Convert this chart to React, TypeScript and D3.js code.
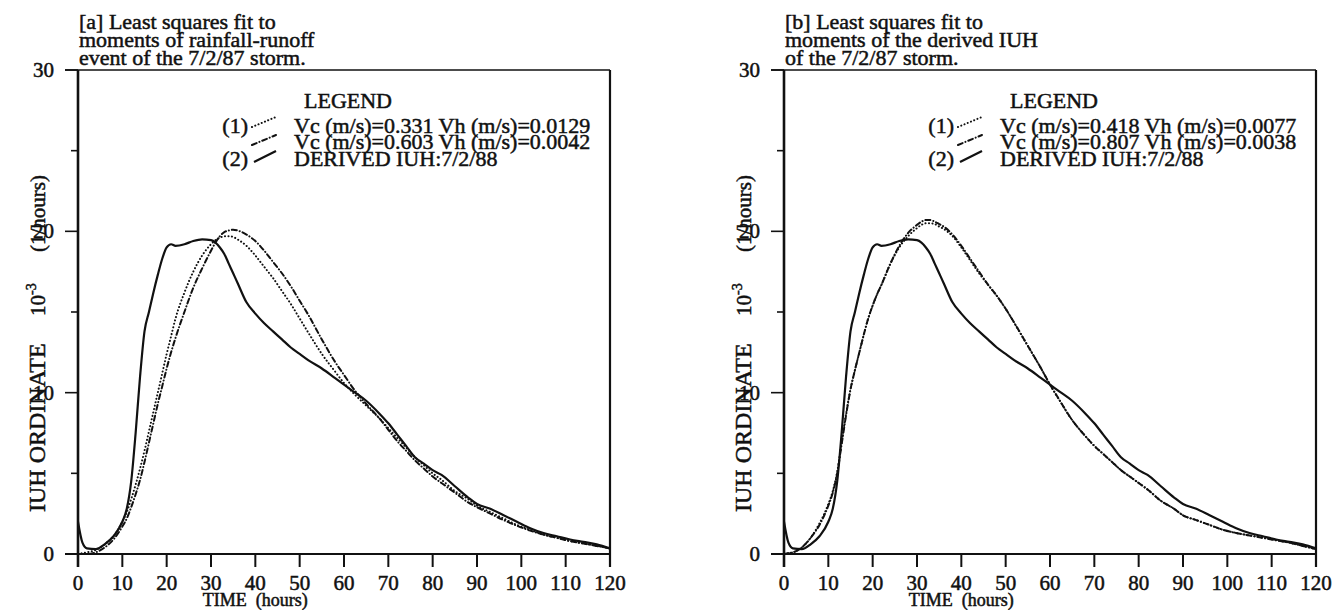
import React from 'react';
import * as d3 from 'd3';

// time grid (hours) shared by every curve
const timeHours = [0, 1, 2, 4, 6, 8, 10, 11, 12, 13, 14, 15, 16, 17, 18, 19, 20, 21, 22, 24, 26, 28, 30,
  31, 32, 33, 34, 35, 36, 38, 40, 42, 44, 46, 48, 50, 52, 55, 58, 60, 62, 65, 68, 70,
  72, 74, 76, 78, 80, 82, 85, 88, 90, 93, 96, 99, 102, 105, 108, 111, 114, 117, 120];

// derived IUH of 7/2/88 (same curve on both panels), x10^-3 1/hours
const derivedIUH = [2.0, 0.7, 0.35, 0.3, 0.6, 1.1, 2.0, 2.8, 4.5, 7.5, 11.0, 13.8, 15.0, 16.2, 17.3, 18.3, 19.0, 19.2, 19.1, 19.2, 19.4, 19.5, 19.45,
  19.3, 19.0, 18.6, 18.0, 17.4, 16.8, 15.6, 14.9, 14.3, 13.8, 13.3, 12.8, 12.4, 12.0, 11.5, 10.9, 10.5, 10.1, 9.5, 8.7, 8.1,
  7.4, 6.7, 6.0, 5.6, 5.2, 4.9, 4.2, 3.5, 3.1, 2.8, 2.4, 2.0, 1.6, 1.3, 1.1, 0.9, 0.75, 0.6, 0.35];

// panel a fits
const fitA1 = [0.0, 0.05, 0.1, 0.25, 0.6, 1.1, 2.0, 2.6, 3.4, 4.3, 5.3, 6.4, 7.6, 8.8, 10.0, 11.2, 12.4, 13.5, 14.6, 16.2, 17.5, 18.5, 19.2,
  19.45, 19.6, 19.7, 19.7, 19.65, 19.5, 19.1, 18.5, 17.8, 17.1, 16.3, 15.5, 14.6, 13.7, 12.4, 11.3, 10.6, 10.0, 9.2, 8.4, 7.8,
  7.2, 6.6, 6.0, 5.5, 5.0, 4.6, 3.9, 3.4, 3.0, 2.6, 2.2, 1.8, 1.5, 1.2, 1.0, 0.8, 0.65, 0.5, 0.35];
const fitA2 = [0.0, 0.0, 0.0, 0.1, 0.4, 0.9, 1.7, 2.2, 2.9, 3.7, 4.6, 5.7, 6.9, 8.1, 9.3, 10.4, 11.5, 12.5, 13.4, 15.0, 16.5, 17.7, 18.8,
  19.3, 19.7, 19.95, 20.05, 20.1, 20.05, 19.8, 19.4, 18.8, 18.1, 17.4, 16.6, 15.7, 14.8, 13.3, 11.9, 11.1, 10.3, 9.3, 8.4, 7.7,
  7.0, 6.4, 5.8, 5.3, 4.8, 4.4, 3.8, 3.2, 2.9, 2.5, 2.1, 1.75, 1.45, 1.2, 1.0, 0.8, 0.65, 0.5, 0.35];

// panel b fits
const fitB1 = [0.0, 0.05, 0.1, 0.4, 1.0, 1.9, 3.1, 3.9, 5.1, 6.9, 8.7, 10.2, 11.4, 12.5, 13.6, 14.6, 15.4, 16.1, 16.7, 18.0, 19.0, 19.7, 20.2,
  20.4, 20.5, 20.5, 20.45, 20.3, 20.15, 19.7, 19.0, 18.2, 17.4, 16.7, 16.0, 15.2, 14.3, 12.9, 11.5, 10.5, 9.6, 8.3, 7.3, 6.7,
  6.2, 5.7, 5.2, 4.8, 4.4, 4.0, 3.3, 2.8, 2.4, 2.1, 1.8, 1.5, 1.3, 1.15, 1.0, 0.85, 0.7, 0.5, 0.3];
const fitB2 = [0.0, 0.05, 0.1, 0.4, 1.0, 1.8, 3.0, 3.8, 5.0, 6.8, 8.6, 10.2, 11.4, 12.5, 13.6, 14.6, 15.4, 16.1, 16.7, 18.0, 19.1, 19.9, 20.4,
  20.6, 20.7, 20.7, 20.6, 20.45, 20.3, 19.8, 19.1, 18.3, 17.5, 16.7, 16.0, 15.2, 14.3, 12.9, 11.5, 10.5, 9.6, 8.3, 7.3, 6.7,
  6.2, 5.7, 5.2, 4.8, 4.4, 4.0, 3.3, 2.8, 2.4, 2.1, 1.8, 1.5, 1.3, 1.15, 1.0, 0.85, 0.7, 0.5, 0.3];

const xTicks = [0, 10, 20, 30, 40, 50, 60, 70, 80, 90, 100, 110, 120];
const yMajor = [0, 10, 20, 30];
const yMinor = [5, 15, 25];

const titleA = ['[a] Least squares fit to', 'moments of rainfall-runoff', 'event of the 7/2/87 storm.'];
const titleB = ['[b] Least squares fit to', 'moments of the derived IUH', 'of the 7/2/87 storm.'];
const legendA = ['Vc (m/s)=0.331 Vh (m/s)=0.0129', 'Vc (m/s)=0.603 Vh (m/s)=0.0042', 'DERIVED IUH:7/2/88'];
const legendB = ['Vc (m/s)=0.418 Vh (m/s)=0.0077', 'Vc (m/s)=0.807 Vh (m/s)=0.0038', 'DERIVED IUH:7/2/88'];

const FONT = '"Liberation Serif", "Times New Roman", serif';
const DOTTED = '0.1 3.4';
const DASHDOT = '5 3 0.1 3';

function Panel({ left, title, legend, fit1, fit2 }) {
  const top = 70, bottom = 554, width = 532;
  const x = d3.scaleLinear().domain([0, 120]).range([left, left + width]);
  const y = d3.scaleLinear().domain([0, 30]).range([bottom, top]);

  const line = (vals) => d3.line()
    .x((d, i) => x(timeHours[i]))
    .y((d) => y(d))
    .curve(d3.curveMonotoneX)(vals);

  const lg = left + 216; // legend text start
  const lgRows = [133, 149, 166];
  const ink = { fill: '#111', stroke: '#111', strokeWidth: 0.5 };

  return (
    <g fontFamily={FONT}>
      {/* title */}
      {title.map((t, i) => (
        <text key={t} x={left + 1} y={29 + i * 18} fontSize={22} {...ink}>{t}</text>
      ))}

      {/* frame */}
      <line x1={left - 13} x2={left + width} y1={top} y2={top} stroke="#111" strokeWidth={1.6} />
      <line x1={left} x2={left} y1={top} y2={bottom + 13} stroke="#111" strokeWidth={2.6} />
      <line x1={left - 13} x2={left + width} y1={bottom} y2={bottom} stroke="#111" strokeWidth={2.2} />
      <line x1={left + width} x2={left + width} y1={top} y2={bottom + 13} stroke="#111" strokeWidth={2.2} />

      {/* y ticks */}
      {yMajor.map((v) => (
        <g key={'ym' + v}>
          <line x1={left - 13} x2={left} y1={y(v)} y2={y(v)} stroke="#111" strokeWidth={1.6} />
          <text x={left - 24} y={y(v) + 7} fontSize={21} textAnchor="end" {...ink}>{v}</text>
        </g>
      ))}
      {yMinor.map((v) => (
        <line key={'yn' + v} x1={left - 7} x2={left} y1={y(v)} y2={y(v)} stroke="#111" strokeWidth={1.6} />
      ))}

      {/* x ticks */}
      {xTicks.map((t) => (
        <g key={'xt' + t}>
          <line x1={x(t)} x2={x(t)} y1={bottom} y2={bottom + 13} stroke="#111" strokeWidth={2} />
          <text x={x(t)} y={590} fontSize={21} textAnchor="middle" {...ink}>{t}</text>
        </g>
      ))}
      <text x={x(40)} y={606} fontSize={18} textAnchor="middle" {...ink} xmlSpace="preserve">TIME  (hours)</text>

      {/* y label */}
      <g transform={`translate(${left - 33},0) rotate(-90)`} {...ink}>
        <text x={-512} y={0} fontSize={24}>IUH ORDINATE</text>
        <text x={-316} y={0} fontSize={21}>10<tspan fontSize={14} dy={-9}>-3</tspan></text>
        <text x={-252} y={0} fontSize={21}>(1/hours)</text>
      </g>

      {/* curves */}
      <path d={line(derivedIUH)} fill="none" stroke="#111" strokeWidth={2.2} strokeLinejoin="round" />
      <path d={line(fit1)} fill="none" stroke="#111" strokeWidth={2} strokeDasharray={DOTTED} strokeLinecap="round" />
      <path d={line(fit2)} fill="none" stroke="#111" strokeWidth={2} strokeDasharray={DASHDOT} strokeLinecap="round" />

      {/* legend */}
      <text x={left + 270} y={108} fontSize={22} textAnchor="middle" {...ink}>LEGEND</text>
      <text x={left + 170} y={lgRows[0]} fontSize={22} textAnchor="end" {...ink}>(1)</text>
      <text x={left + 170} y={lgRows[2]} fontSize={22} textAnchor="end" {...ink}>(2)</text>
      <line x1={left + 174} y1={lgRows[0] - 6} x2={left + 198} y2={lgRows[0] - 16} stroke="#111" strokeWidth={2} strokeDasharray={DOTTED} strokeLinecap="round" />
      <line x1={left + 174} y1={lgRows[1] - 4} x2={left + 198} y2={lgRows[1] - 14} stroke="#111" strokeWidth={2} strokeDasharray={DASHDOT} strokeLinecap="round" />
      <line x1={left + 176} y1={lgRows[2] - 4} x2={left + 198} y2={lgRows[2] - 15} stroke="#111" strokeWidth={2.2} />
      {legend.map((t, i) => (
        <text key={t + i} x={lg} y={lgRows[i]} fontSize={22} {...ink}>{t}</text>
      ))}
    </g>
  );
}

export default function App() {
  return (
    <svg width={1341} height={610} style={{ position: 'absolute', left: 0, top: 0, background: '#fff' }}>
      <rect width={1341} height={610} fill="#fff" />
      <Panel left={78} title={titleA} legend={legendA} fit1={fitA1} fit2={fitA2} />
      <Panel left={784} title={titleB} legend={legendB} fit1={fitB1} fit2={fitB2} />
    </svg>
  );
}
